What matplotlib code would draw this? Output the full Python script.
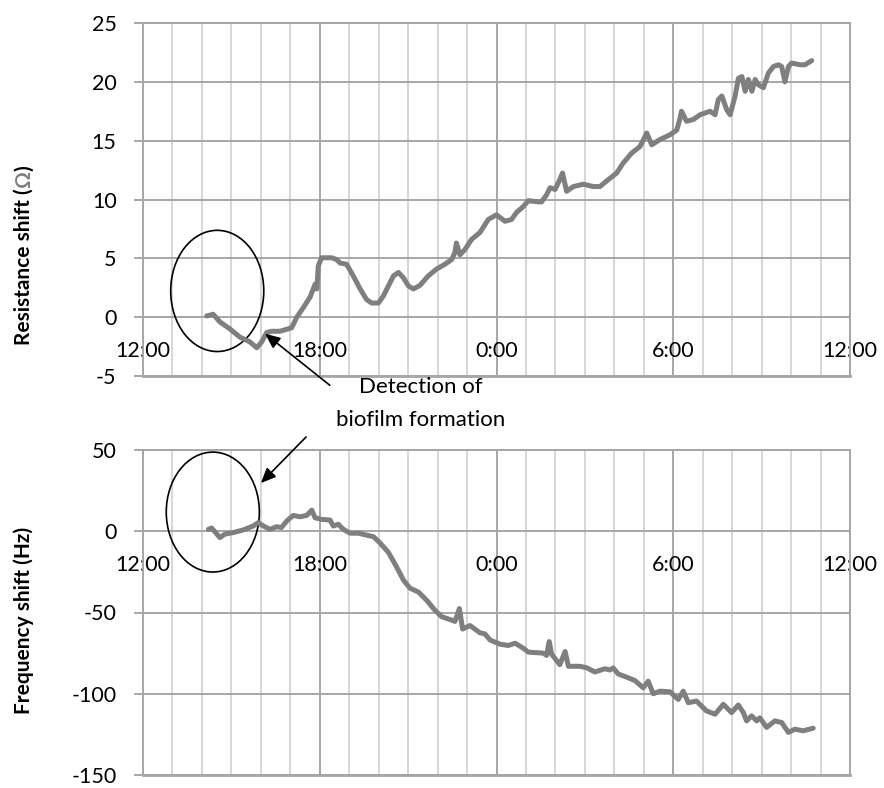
import matplotlib
matplotlib.use("Agg")
import matplotlib.pyplot as plt
from matplotlib.patches import Ellipse
import numpy as np

plt.rcParams['font.family'] = ['Lato', 'DejaVu Sans']
plt.rcParams['axes.unicode_minus'] = False

# hours after 12:00 on day 1
time_r = [2.16, 2.38, 2.61, 2.95, 3.29, 3.63, 3.86, 4.03, 4.2, 4.37, 4.65, 5.05, 5.22, 5.44,
          5.67, 5.78, 5.84, 5.9, 5.95, 6.06, 6.4, 6.57, 6.69, 6.91, 7.14, 7.37, 7.59, 7.76,
          7.99, 8.16, 8.33, 8.5, 8.67, 8.84, 9.01, 9.18, 9.4, 9.68, 9.97, 10.25, 10.48, 10.59,
          10.64, 10.76, 10.93, 11.15, 11.44, 11.72, 12.0, 12.29, 12.51, 12.68, 12.91, 13.08,
          13.42, 13.53, 13.7, 13.82, 13.99, 14.15, 14.24, 14.38, 14.61, 14.95, 15.29, 15.51,
          15.8, 16.08, 16.3, 16.59, 16.87, 17.1, 17.27, 17.55, 17.89, 18.12, 18.23, 18.28,
          18.45, 18.68, 18.91, 19.25, 19.42, 19.53, 19.65, 19.82, 19.93, 20.1, 20.21, 20.33,
          20.44, 20.55, 20.67, 20.78, 20.89, 21.06, 21.23, 21.4, 21.57, 21.68, 21.79, 21.91,
          22.02, 22.3, 22.47, 22.7]
res_shift = [0.1, 0.25, -0.4, -1.0, -1.7, -2.1, -2.6, -2.1, -1.3, -1.2, -1.2, -0.9, 0.0, 0.8,
             1.7, 2.4, 2.8, 2.4, 4.35, 5.05, 5.05, 4.9, 4.6, 4.5, 3.5, 2.4, 1.5, 1.2,
             1.2, 1.8, 2.65, 3.5, 3.8, 3.35, 2.65, 2.4, 2.7, 3.5, 4.1, 4.5, 4.9, 5.5,
             6.3, 5.3, 5.75, 6.6, 7.2, 8.3, 8.7, 8.15, 8.3, 8.9, 9.4, 9.9,
             9.8, 9.8, 10.4, 11.0, 10.85, 11.7, 12.25, 10.7, 11.1, 11.3, 11.1, 11.1,
             11.7, 12.25, 13.1, 13.95, 14.5, 15.65, 14.65, 15.1, 15.5, 15.9, 16.9, 17.5,
             16.65, 16.8, 17.2, 17.5, 17.2, 18.5, 18.8, 17.6, 17.2, 18.8, 20.3, 20.45,
             19.2, 20.2, 19.2, 20.2, 19.75, 19.5, 20.75, 21.3, 21.45, 21.3, 20.0, 21.3,
             21.6, 21.45, 21.45, 21.8]

time_f = [2.22, 2.33, 2.61, 2.78, 3.07, 3.4, 3.74, 3.91, 4.09, 4.31, 4.54, 4.7, 4.88, 5.1,
          5.33, 5.56, 5.73, 5.84, 6.06, 6.35, 6.46, 6.63, 6.8, 7.03, 7.31, 7.59, 7.82, 8.05,
          8.33, 8.61, 8.84, 9.06, 9.35, 9.63, 9.91, 10.14, 10.48, 10.59, 10.74, 10.85, 11.1,
          11.44, 11.61, 11.78, 12.12, 12.4, 12.63, 12.91, 13.08, 13.59, 13.7, 13.79, 13.87,
          14.15, 14.33, 14.44, 14.83, 15.06, 15.34, 15.68, 15.85, 15.96, 16.13, 16.42, 16.7,
          16.98, 17.15, 17.32, 17.55, 17.89, 18.17, 18.34, 18.51, 18.79, 19.13, 19.42, 19.7,
          19.98, 20.21, 20.38, 20.49, 20.66, 20.83, 20.94, 21.17, 21.45, 21.68, 21.91, 22.13,
          22.41, 22.75]
freq_shift = [1.2, 2.0, -3.9, -1.8, -0.8, 0.8, 3.2, 5.3, 3.2, 1.2, 2.8, 2.3, 6.3, 9.75,
              8.9, 9.75, 13.0, 8.3, 7.3, 6.9, 3.2, 4.3, 1.2, -1.2, -1.2, -2.4, -3.3, -7.3,
              -13, -22, -30, -35, -37.4, -42.5, -48.6, -52.6, -54.7, -55.5, -47.6, -60.2, -58,
              -62.5, -63.2, -66.9, -69.5, -70.3, -68.9, -72, -74.4, -75, -76.4, -67.9, -75.6,
              -82.1, -74, -83.1, -83.1, -84, -86.6, -84.6, -85.4, -84.1, -87.8, -89.8, -91.9,
              -96.3, -92.3, -100, -98.4, -98.8, -103.5, -98.4, -105.5, -104.5, -110.6, -112.6, -106.5,
              -111.6, -106.9, -111.6, -116.7, -113.6, -116.7, -114.8, -120.7, -116.7, -117.7, -123.8, -121.8,
              -122.8, -121.2]

major_ticks = [0, 6, 12, 18, 24]
major_labels = ["12:00", "18:00", "0:00", "6:00", "12:00"]

W, H = 884, 788
fig = plt.figure(figsize=(W / 100, H / 100), dpi=100)
ax1 = fig.add_axes([143 / W, 1 - 376 / H, 707 / W, 353 / H])
ax2 = fig.add_axes([143 / W, 1 - 775 / H, 707 / W, 325 / H])

line_col = "#7f7f7f"
grid_major = "#a6a6a6"
grid_minor = "#d0d0d0"
fs = 15.5


def style(ax, ylim, ystep):
    ax.set_xlim(0, 24)
    ax.set_ylim(*ylim)
    ax.set_xticks(major_ticks)
    ax.set_xticklabels(major_labels)
    ax.set_xticks(np.arange(0, 25, 1), minor=True)
    ax.set_yticks(np.arange(ylim[0], ylim[1] + ystep / 2, ystep))
    ax.grid(which="minor", axis="x", color=grid_minor, lw=1.2)
    ax.grid(which="major", axis="x", color=grid_major, lw=1.4)
    ax.grid(which="major", axis="y", color=grid_major, lw=1.4)
    ax.set_axisbelow(True)
    for s in ["top", "right", "left"]:
        ax.spines[s].set_color(grid_major)
        ax.spines[s].set_linewidth(1.4)
    ax.spines["bottom"].set_position(("data", 0))
    ax.spines["bottom"].set_visible(False)
    ax.axhline(ylim[0], color=grid_major, lw=2.0, clip_on=False)
    ax.tick_params(axis="x", which="both", length=0, pad=17, labelsize=fs)
    ax.tick_params(axis="y", length=6.5, color=grid_major, width=1.4, pad=12.5, labelsize=fs)


style(ax1, (-5, 25), 5)
style(ax2, (-150, 50), 50)

ax1.plot(time_r, res_shift, color=line_col, lw=3.6, solid_capstyle="round", solid_joinstyle="round")
ax2.plot(time_f, freq_shift, color=line_col, lw=3.6, solid_capstyle="round", solid_joinstyle="round")

ax1.add_patch(Ellipse((2.52, 2.23), 3.16, 10.3, fill=False, ec="black", lw=1.2))
ax2.add_patch(Ellipse((2.37, 11.8), 3.16, 73.8, fill=False, ec="black", lw=1.2))

fig.text(421 / W, 1 - 387 / H, "Detection of", ha="center", va="center", fontsize=16)
fig.text(421 / W, 1 - 420 / H, "biofilm formation", ha="center", va="center", fontsize=16)

arrow = dict(arrowstyle="-|>,head_length=0.9,head_width=0.4", color="black", lw=1.2)
ax1.annotate("", xy=(263, H - 332), xycoords="figure pixels",
             xytext=(332, H - 387), textcoords="figure pixels", arrowprops=arrow)
ax2.annotate("", xy=(259, H - 485), xycoords="figure pixels",
             xytext=(308, H - 435), textcoords="figure pixels", arrowprops=arrow)


# vertical axis titles, built from pieces so the unit sign can be grey
renderer = fig.canvas.get_renderer()


def vlabel(pieces, xc, yc):
    texts = []
    for s, c in pieces:
        texts.append(fig.text(0, 0, s, rotation=90, ha="center", va="bottom", color=c,
                              fontsize=15, fontweight="bold", transform=None))
    heights = [t.get_window_extent(renderer).height for t in texts]
    y = yc - sum(heights) / 2
    for t, h in zip(texts, heights):
        t.set_position((xc, y))
        y += h


vlabel([("Resistance shift (", "black"), ("\u03a9", "#7f7f7f"), (")", "black")], 24, H - 255)
vlabel([("Frequency shift (Hz)", "black")], 24, H - 620)

fig.savefig("out.png", dpi=100)
